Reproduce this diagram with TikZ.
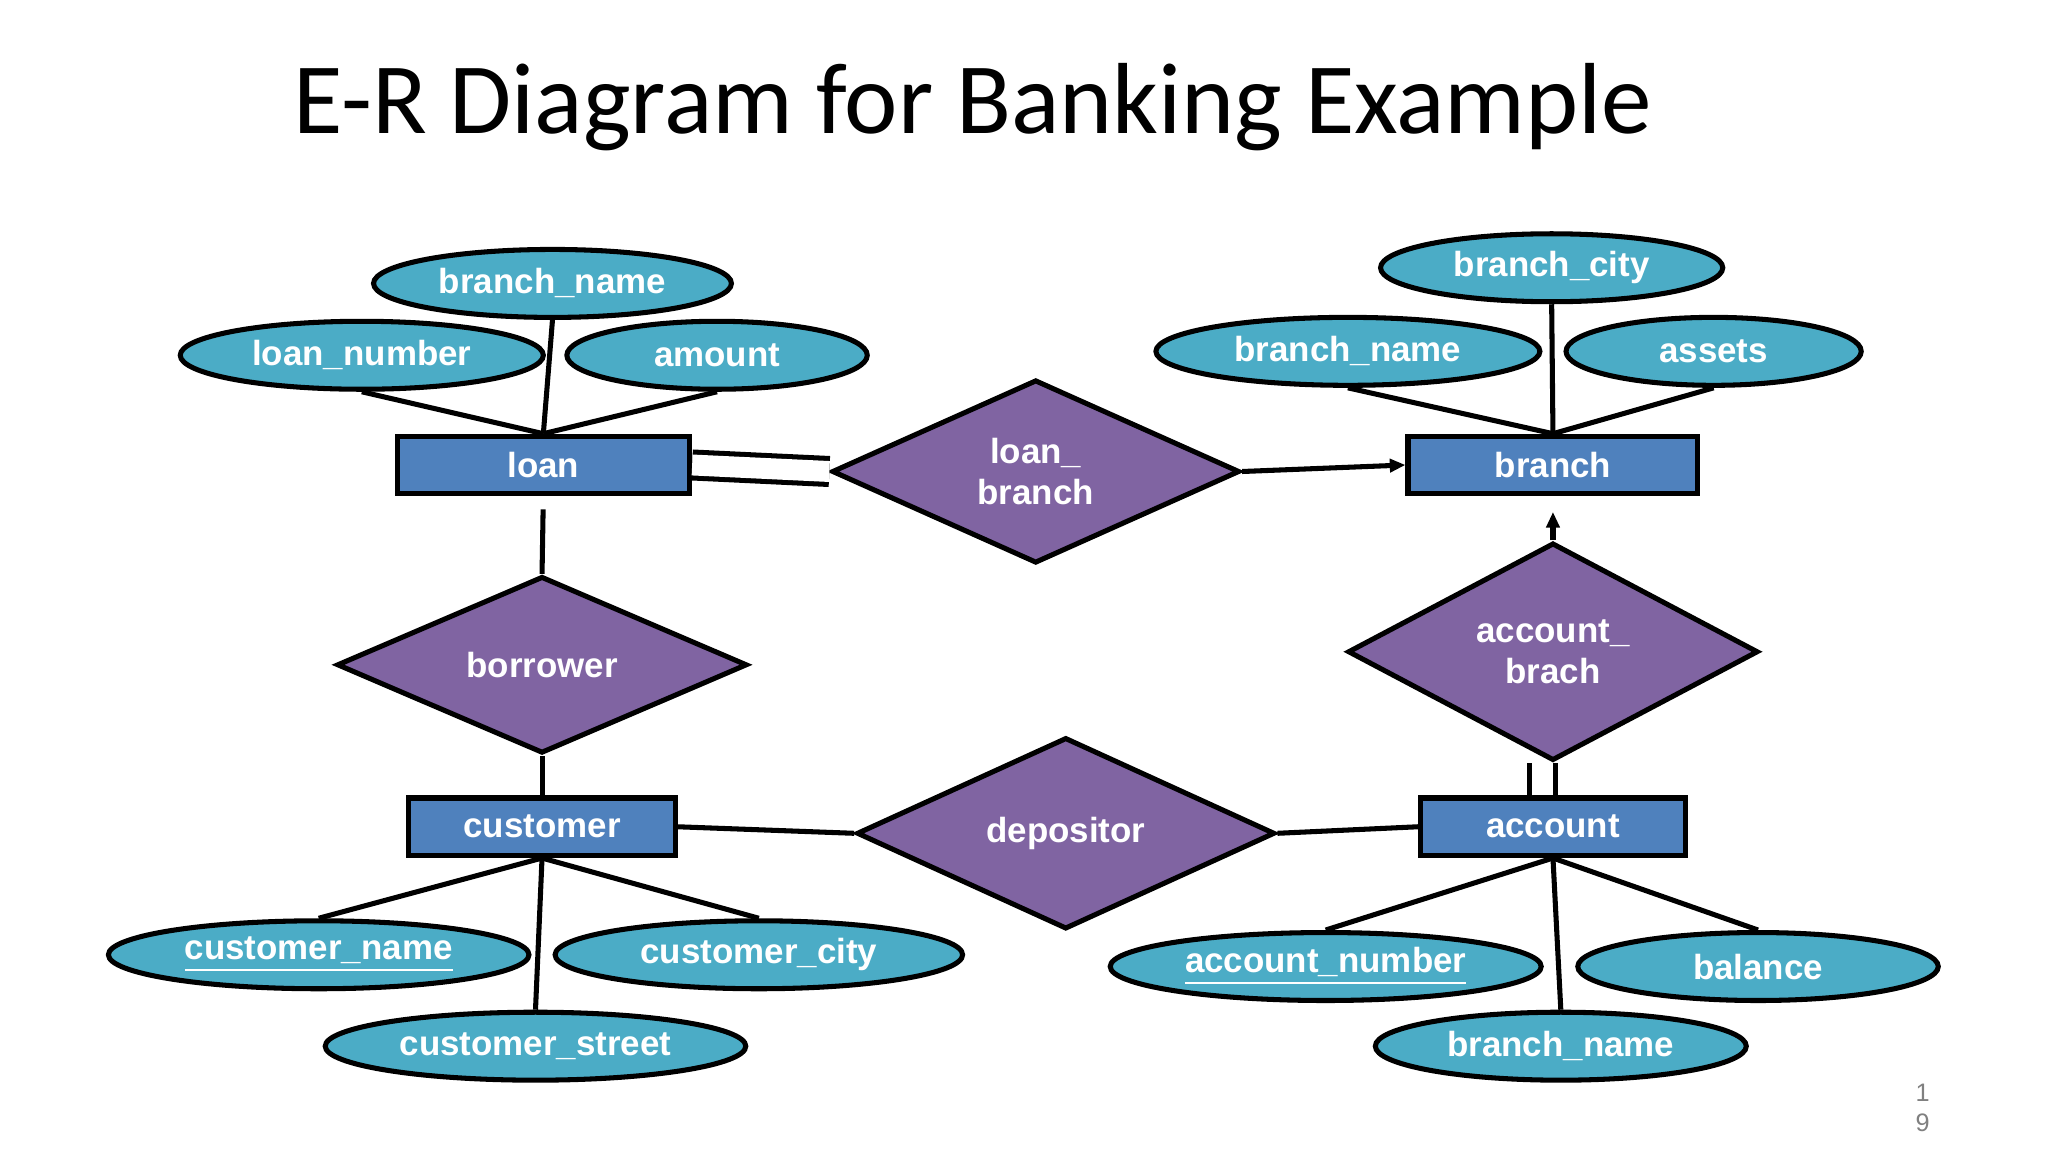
\documentclass[tikz,border=0pt]{standalone}
\usepackage{fontspec}
\setmainfont{Liberation Sans}
\newfontfamily\titlefont{Carlito}
\usetikzlibrary{shapes.geometric,arrows.meta}
\definecolor{ent}{HTML}{4F81BD}
\definecolor{rel}{HTML}{8064A2}
\definecolor{att}{HTML}{4BACC6}
\begin{document}
\begin{tikzpicture}[x=0.01cm,y=-0.01cm,
  every node/.style={font=\bfseries\fontsize{7.6}{9}\selectfont,text=white},
  ent/.style={rectangle,draw=black,line width=1.1pt,fill=ent,minimum width=#1*0.01cm,minimum height=0.44cm,inner sep=0},
  rel/.style={diamond,draw=black,line width=1.1pt,fill=rel,minimum width=3.14cm,minimum height=1.28cm,inner sep=0,align=center},
  att/.style={ellipse,draw=black,line width=1.1pt,fill=att,minimum width=#1*0.01cm,minimum height=0.52cm,inner sep=0},
  ln/.style={draw=black,line width=1.1pt},
  dbl/.style={draw=black,line width=1.1pt,double=white,double distance=0.16cm},
  arr/.style={ln,-{Triangle[length=0.12cm,width=0.1cm]}}]
\useasboundingbox (0,0) rectangle (1568,882);
\fill[white] (0,0) rectangle (1568,882);
\node[text=black,font=\titlefont\fontsize{22}{26}\selectfont,anchor=west] (title) at (212,82) {E-R Diagram for Banking Example};
% entities
\node[ent=224] (loan) at (416,356) {loan};
\node[ent=222] (branch) at (1189,356) {branch};
\node[ent=204] (customer) at (415,633) {customer};
\node[ent=203] (account) at (1189,633) {account};
% relationships
\node[rel,minimum width=3.12cm,minimum height=1.29cm] (lb) at (793,361) {loan\_\\branch};
\node[rel] (borrower) at (415,509) {borrower};
\node[rel,minimum height=1.27cm] (ab) at (1189,499) {account\_\\brach};
\node[rel,minimum width=3.2cm] (dep) at (816,638) {depositor};
% attributes
\node[att=274] (bn1) at (423,217) {branch\_name};
\node[att=278] (ln) at (277,272) {loan\_number};
\node[att=230] (amt) at (549,272) {amount};
\node[att=262] (bc) at (1188,205) {branch\_city};
\node[att=294] (bn2) at (1032,269) {branch\_name};
\node[att=226] (as) at (1312,269) {assets};
\node[att=322] (cn) at (244,731) {\underline{customer\_name}};
\node[att=312] (cc) at (581,731) {customer\_city};
\node[att=322] (cs) at (410,801) {customer\_street};
\node[att=330] (an) at (1015,740) {\underline{account\_number}};
\node[att=276] (bal) at (1346,740) {balance};
\node[att=284] (bn3) at (1195,801) {branch\_name};
\node[text=gray,font=\fontsize{5.5}{6.5}\selectfont,align=center] (pg) at (1472,848) {1\\9};
% attribute links
\draw[ln] (ln.south) -- (loan.north);
\draw[ln] (bn1.south) -- (loan.north);
\draw[ln] (amt.south) -- (loan.north);
\draw[ln] (bn2.south) -- (branch.north);
\draw[ln] (bc.south) -- (branch.north);
\draw[ln] (as.south) -- (branch.north);
\draw[ln] (customer.south) -- (cn.north);
\draw[ln] (customer.south) -- (cc.north);
\draw[ln] (customer.south) -- (cs.north);
\draw[ln] (account.south) -- (an.north);
\draw[ln] (account.south) -- (bal.north);
\draw[ln] (account.south) -- (bn3.north);
% relationship links
\draw[dbl] (loan.east) -- (lb.west);
\draw[arr] (lb.east) -- (branch.west);
\draw[ln,shorten <=0.1cm] (loan.south) -- (borrower.north);
\draw[ln] (borrower.south) -- (customer.north);
\draw[ln] (customer.east) -- (dep.west);
\draw[ln] (dep.east) -- (account.west);
\draw[dbl] ([xshift=-0.08cm]account.north) -- ([xshift=-0.08cm]ab.south);
\draw[arr,shorten >=0.12cm] (ab.north) -- (branch.south);
\end{tikzpicture}
\end{document}
